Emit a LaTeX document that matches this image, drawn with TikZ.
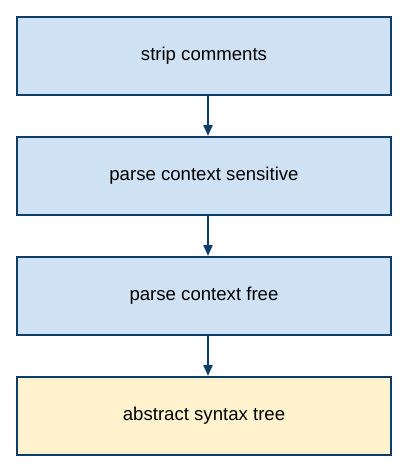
\documentclass[tikz,border=0pt]{standalone}
\usepackage{fontspec}
\setmainfont{Liberation Sans}
\usetikzlibrary{arrows.meta}
\definecolor{bfill}{HTML}{CFE2F3}
\definecolor{yfill}{HTML}{FFF2CC}
\definecolor{bdraw}{HTML}{0F3D6B}
\begin{document}
\begin{tikzpicture}[x=1pt,y=-1pt,
  stepbox/.style={draw=bdraw,line width=2pt,fill=bfill,minimum width=374pt,minimum height=78pt,inner sep=0pt,font=\fontsize{18.6}{22}\selectfont},
  resultbox/.style={stepbox,fill=yfill},
  flow/.style={draw=bdraw,line width=2pt,-{Triangle[length=11pt,width=9pt]}}]
\useasboundingbox (0,0) rectangle (415,475);
\node[stepbox] (a) at (204,56) {strip comments};
\node[stepbox] (b) at (204,176) {parse context sensitive};
\node[stepbox] (c) at (204,296) {parse context free};
\node[resultbox] (d) at (204,416) {abstract syntax tree};
\draw[flow] ([xshift=4pt]a.south) -- ([xshift=4pt]b.north);
\draw[flow] ([xshift=4pt]b.south) -- ([xshift=4pt]c.north);
\draw[flow] ([xshift=4pt]c.south) -- ([xshift=4pt]d.north);
\end{tikzpicture}
\end{document}
